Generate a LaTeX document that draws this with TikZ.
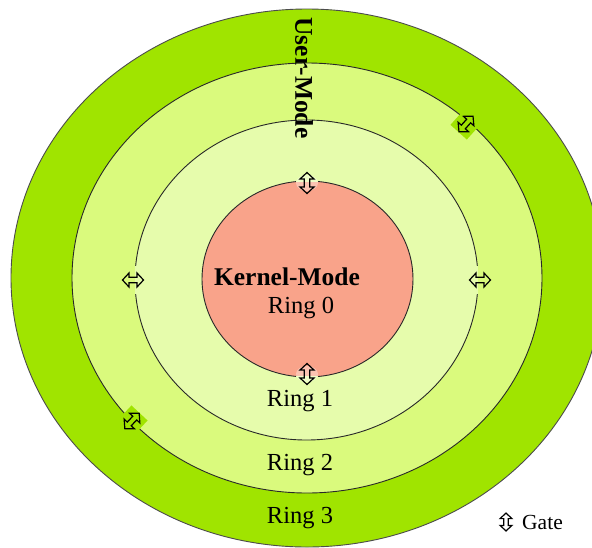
\documentclass[tikz,border=0pt]{standalone}
\usepackage{fontspec}
\setmainfont{Liberation Serif}
\begin{document}
\begin{tikzpicture}[x=1pt,y=-1pt]
  \definecolor{ringthree}{RGB}{160,228,0}
  \definecolor{ringtwo}{RGB}{218,250,125}
  \definecolor{ringone}{RGB}{230,252,172}
  \definecolor{kernelfill}{RGB}{249,163,138}
  \definecolor{ringedge}{RGB}{40,40,40}
  \tikzset{
    ringline/.style={draw=ringedge, line width=0.9pt},
    ringtext/.style={font=\fontsize{24.5}{28}\selectfont, inner sep=0pt},
    boldtext/.style={font=\fontsize{25.5}{30}\selectfont\bfseries, inner sep=0pt},
    gatepatch/.style={fill=ringthree, draw=none},
    gate/.pic={
      \draw[line width=1.2pt, line join=miter, fill=none]
        (0,-10.5) -- (7,-4) -- (2.7,-4) -- (2.7,4) -- (7,4)
        -- (0,10.5) -- (-7,4) -- (-2.7,4) -- (-2.7,-4)
        -- (-7,-4) -- cycle;
    }
  }
  \useasboundingbox (0,0) rectangle (592,547);
  \clip (0,0) rectangle (592,547);

  % protection rings, outermost first
  \fill[ringthree] (307,278) ellipse [x radius=296, y radius=269];
  \draw[ringline, draw=black!70] (307,278) ellipse [x radius=296, y radius=269];
  \filldraw[ringline, fill=ringtwo] (307,278) ellipse [x radius=235, y radius=215];
  \filldraw[ringline, fill=ringone] (306.5,280) ellipse [x radius=171.5, y radius=160];
  \filldraw[ringline, fill=kernelfill] (307.5,279) ellipse [x radius=105.5, y radius=98];

  % backgrounds behind the gates, covering the ring outlines
  \fill[ringtwo] (124,266) rectangle (134.5,294);
  \fill[ringone] (134.5,266) rectangle (143,294);
  \fill[ringone] (470,266) rectangle (478,294);
  \fill[ringtwo] (478,266) rectangle (489,294);
  \fill[ringone] (296,170) rectangle (318,181.5);
  \fill[kernelfill] (296,181.5) rectangle (318,196);
  \fill[white, opacity=0.35] (307,183) ellipse [x radius=11, y radius=8];
  \fill[kernelfill] (296,361) rectangle (318,376);
  \fill[ringone] (296,376) rectangle (318,387);
  \fill[white, opacity=0.35] (307,374) ellipse [x radius=11, y radius=8];
  \fill[gatepatch, rotate around={-42:(466,124)}] (455,113) rectangle (477,135);
  \fill[gatepatch, rotate around={-43:(132,421)}] (121,410) rectangle (143,432);

  % gates between rings
  \pic (gtop) at (307,183) {gate};
  \pic (gbot) at (307,374) {gate};
  \pic[rotate=90] (gleft) at (133,280) {gate};
  \pic[rotate=90] (gright) at (480,280) {gate};
  \pic[rotate=-42] (gne) at (466,124) {gate};
  \pic[rotate=-43] (gsw) at (132,421) {gate};

  % labels
  \node[boldtext, rotate=-90] (user) at (304,78) {User-Mode};
  \node[boldtext] (kernel) at (287,277) {Kernel-Mode};
  \node[ringtext] (r0) at (301,308) {Ring 0};
  \node[ringtext] (r1) at (300,401) {Ring 1};
  \node[ringtext] (r2) at (300,465) {Ring 2};
  \node[ringtext] (r3) at (300,518) {Ring 3};

  % legend
  \pic[scale=0.85] (glegend) at (506,522) {gate};
  \node[ringtext, font=\fontsize{21.5}{26}\selectfont, anchor=west] (gatelabel) at (522,522) {Gate};
\end{tikzpicture}
\end{document}
